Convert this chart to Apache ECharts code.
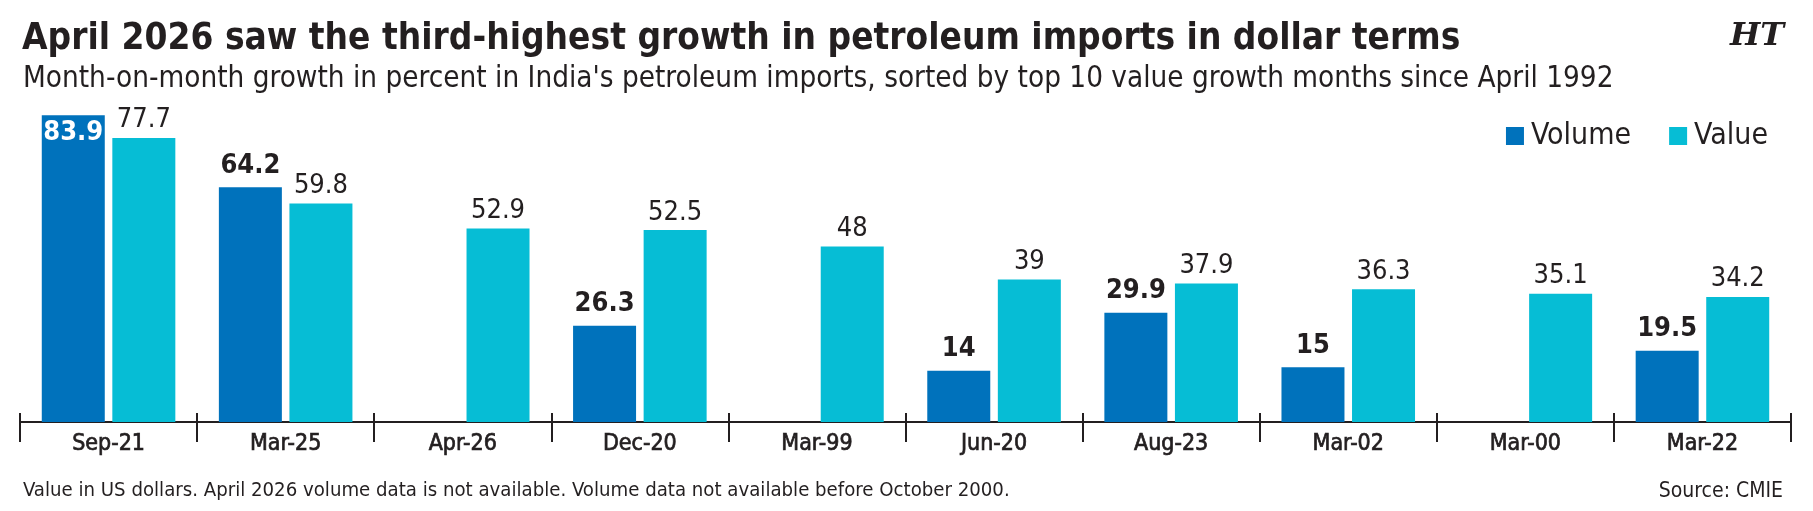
<!DOCTYPE html>
<html>
<head>
<meta charset="utf-8">
<script src="https://cdn.jsdelivr.net/npm/echarts@6/dist/echarts.min.js"></script>
<style>
  html, body { margin: 0; padding: 0; background: #fff; }
  #main { width: 1813px; height: 511px; }
</style>
</head>
<body>
<div id="main"></div>
<script>
// top 10 value growth months, percent m-o-m
const months = ['Sep-21', 'Mar-25', 'Apr-26', 'Dec-20', 'Mar-99', 'Jun-20', 'Aug-23', 'Mar-02', 'Mar-00', 'Mar-22'];
const volume = [83.9, 64.2, null, 26.3, null, 14, 29.9, 15, null, 19.5];
const value = [77.7, 59.8, 52.9, 52.5, 48, 39, 37.9, 36.3, 35.1, 34.2];

const FONT = "'DejaVu Sans Condensed', 'Liberation Sans Narrow', sans-serif";
const INK = '#231f20';

const chart = echarts.init(document.getElementById('main'));

// the tallest volume bar has its label inside, in white
const volMax = Math.max(...volume.filter(x => x !== null));
const volumeData = volume.map(v => {
  if (v === volMax) {
    return { value: v, label: { position: 'insideTop', distance: 4, color: '#fff' } };
  }
  return v;
});

chart.setOption({
  animation: false,
  textStyle: { fontFamily: FONT, color: INK },
  title: [
    {
      text: 'April 2026 saw the third-highest growth in petroleum imports in dollar terms',
      left: 17, top: 16,
      textStyle: { fontFamily: FONT, fontSize: 36.7, fontWeight: 'bold', color: INK }
    },
    {
      text: "Month-on-month growth in percent in India's petroleum imports, sorted by top 10 value growth months since April 1992",
      left: 18, top: 60,
      textStyle: { fontFamily: FONT, fontSize: 29.4, fontWeight: 'normal', color: INK }
    },
    {
      text: 'HT',
      right: 24, top: 16,
      textStyle: { fontFamily: "'DejaVu Serif', serif", fontSize: 32, fontWeight: 'bold', fontStyle: 'italic', color: INK }
    },
    {
      text: 'Value in US dollars. April 2026 volume data is not available. Volume data not available before October 2000.',
      left: 18, top: 476,
      textStyle: { fontFamily: FONT, fontSize: 20.2, fontWeight: 'normal', color: INK }
    },
    {
      text: 'Source: CMIE',
      right: 25, top: 476,
      textStyle: { fontFamily: FONT, fontSize: 21, fontWeight: 'normal', color: INK }
    }
  ],
  legend: {
    right: 40, top: 116,
    icon: 'rect', itemWidth: 18, itemHeight: 18, itemGap: 38,
    textStyle: { fontFamily: FONT, fontSize: 30, color: INK, padding: [0, 0, 0, 2] },
    data: ['Volume', 'Value']
  },
  grid: { left: 20, right: 22, top: 93, bottom: 89, containLabel: false },
  xAxis: [
    {
      type: 'category', data: months, position: 'bottom',
      axisLine: { lineStyle: { color: INK, width: 2 } },
      axisTick: { show: true, inside: false, length: 20, lineStyle: { color: INK, width: 2 } },
      axisLabel: {
        fontFamily: FONT, fontSize: 23, fontWeight: 'normal', color: INK, margin: 11,
        textBorderColor: INK, textBorderWidth: 0.7
      }
    },
    {
      type: 'category', data: months, position: 'bottom',
      axisLine: { show: false },
      axisTick: { show: true, inside: true, length: 9, lineStyle: { color: INK, width: 2 } },
      axisLabel: { show: false }
    }
  ],
  yAxis: { type: 'value', min: 0, max: 90, show: false, splitLine: { show: false } },
  series: [
    {
      name: 'Volume', type: 'bar', data: volumeData,
      barWidth: 63, barGap: '12%',
      itemStyle: { color: '#0072bc' },
      label: { show: true, position: 'top', distance: 8, fontFamily: FONT, fontSize: 27, fontWeight: 'bold', color: INK }
    },
    {
      name: 'Value', type: 'bar', data: value,
      barWidth: 63,
      itemStyle: { color: '#06bdd5' },
      label: { show: true, position: 'top', distance: 4, fontFamily: FONT, fontSize: 27, fontWeight: 'normal', color: INK }
    }
  ]
});
</script>
</body>
</html>
